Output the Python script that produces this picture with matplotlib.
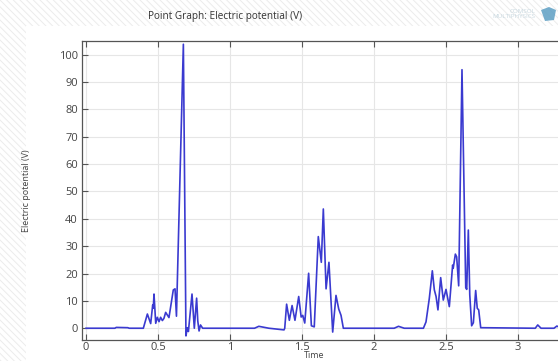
import matplotlib
matplotlib.use("Agg")
import matplotlib.pyplot as plt
from matplotlib.patches import Rectangle, Polygon
from matplotlib.ticker import FuncFormatter

time = [0, 0.2, 0.21, 0.29, 0.30, 0.398, 0.426, 0.449, 0.463, 0.467, 0.472, 0.484,
        0.495, 0.507, 0.518, 0.530, 0.541, 0.553, 0.576, 0.606, 0.618, 0.628, 0.676,
        0.694, 0.703, 0.711, 0.736, 0.752, 0.768, 0.776, 0.785, 0.795, 0.81,
        1.17, 1.20, 1.27, 1.375, 1.380, 1.393, 1.412, 1.431, 1.451, 1.477, 1.494,
        1.505, 1.519, 1.546, 1.565, 1.585, 1.613, 1.634, 1.648, 1.667, 1.687,
        1.713, 1.736, 1.755, 1.771, 1.787, 2.14, 2.17, 2.21, 2.343, 2.361, 2.384,
        2.405, 2.419, 2.431, 2.444, 2.463, 2.481, 2.5, 2.523, 2.546, 2.55, 2.565,
        2.574, 2.588, 2.611, 2.637, 2.644, 2.655, 2.665, 2.678, 2.690, 2.706,
        2.717, 2.727, 2.741, 3.12, 3.137, 3.16, 3.25, 3.27, 3.30, 3.40]
potential = [0, 0, 0.3, 0.2, 0, 0, 5.2, 1.7, 8.5, 7.3, 12.5, 1.8,
             4.0, 2.4, 4.0, 2.8, 3.6, 5.8, 3.9, 14.0, 14.4, 4.4, 103.8,
             -2.8, 0.2, -1.2, 12.5, 0, 11.0, 2.7, -1.0, 1.2, 0,
             0, 0.7, 0, -0.6, 0, 8.8, 2.9, 8.3, 2.9, 11.6, 4.1,
             4.7, 1.9, 20.1, 0.9, 0.5, 33.5, 24.1, 43.6, 14.4, 24.1,
             -1.4, 12.0, 7.0, 4.7, 0, 0, 0.7, 0, 0, 2.3, 10.9,
             21.0, 14.0, 11.6, 6.7, 18.5, 10.3, 14.2, 7.9, 23.1, 21.9, 27.1,
             26.1, 15.5, 94.5, 14.8, 14.2, 35.9, 12.2, 0.9, 2.0, 13.8,
             7.3, 6.7, 0.2, 0, 1.2, 0, 0, 0.8, 0, 0]

x_ticks = [0, 0.5, 1, 1.5, 2, 2.5, 3]
y_ticks = list(range(0, 101, 10))

W, H = 558, 361
plt.rcParams['hatch.linewidth'] = 0.7
fig = plt.figure(figsize=(W / 100, H / 100), dpi=100)
fig.patch.set_facecolor('white')

# faint striped background bands (top and left)
for rect in [(0, 1 - 26 / H, 1, 26 / H), (0, 0, 26 / W, 1 - 26 / H)]:
    fig.add_artist(Rectangle(rect[:2], rect[2], rect[3], transform=fig.transFigure,
                             facecolor='none', edgecolor='#ececec', linewidth=0,
                             hatch='\\\\\\\\\\', zorder=0))

x0, x1 = -0.028, 3.4
left_px, right_px = 82, 86 + 3.4 * 144
ax = fig.add_axes([left_px / W, 1 - 340 / H, (right_px - left_px) / W, (340 - 41) / H])
ax.set_facecolor('white')
ax.plot(time, potential, color='#3a3ad0', lw=1.2)
ax.set_xlim(x0, x1)
ax.set_ylim(-4.3, 105)

font = 'Open Sans'
ax.set_xticks(x_ticks)
ax.set_yticks(y_ticks)
ax.xaxis.set_major_formatter(FuncFormatter(lambda v, p: f"{v:g}"))
ax.grid(True, color='#e6e6e6', lw=0.8)
ax.set_axisbelow(True)
ax.tick_params(direction='in', length=4, width=0.8, colors='#555555',
               labelcolor='#444444', labelsize=8, top=True, right=False)
ax.tick_params(axis='x', pad=1.5)
ax.tick_params(axis='y', pad=3)
for lab in ax.get_xticklabels() + ax.get_yticklabels():
    lab.set_family(font)
for s in ax.spines.values():
    s.set_color('#555555')
    s.set_linewidth(0.9)
ax.spines['right'].set_visible(False)

fig.text(225 / W, 1 - 16 / H, "Point Graph: Electric potential (V)", ha='center', va='center',
         fontsize=7.2, color='#333333', family=font)
fig.text(27 / W, 1 - 191 / H, "Electric potential (V)", rotation=90, ha='center', va='center',
         fontsize=6.5, color='#444444', family=font)
fig.text(314 / W, 1 - 356 / H, "Time", ha='center', va='center',
         fontsize=6.5, color='#444444', family=font)
fig.text(535 / W, 1 - 14 / H, "COMSOL\nMULTIPHYSICS", ha='right', va='center',
         fontsize=4.5, color='#c8d8e0', family=font, linespacing=1.0)
fig.add_artist(Polygon([(541 / W, 1 - 10 / H), (549 / W, 1 - 7 / H), (556 / W, 1 - 10 / H),
                        (554 / W, 1 - 20 / H), (545 / W, 1 - 21 / H)],
                       closed=True, transform=fig.transFigure,
                       facecolor='#5d9fc4', edgecolor='none', alpha=0.85))

fig.savefig("out.png", dpi=100)
